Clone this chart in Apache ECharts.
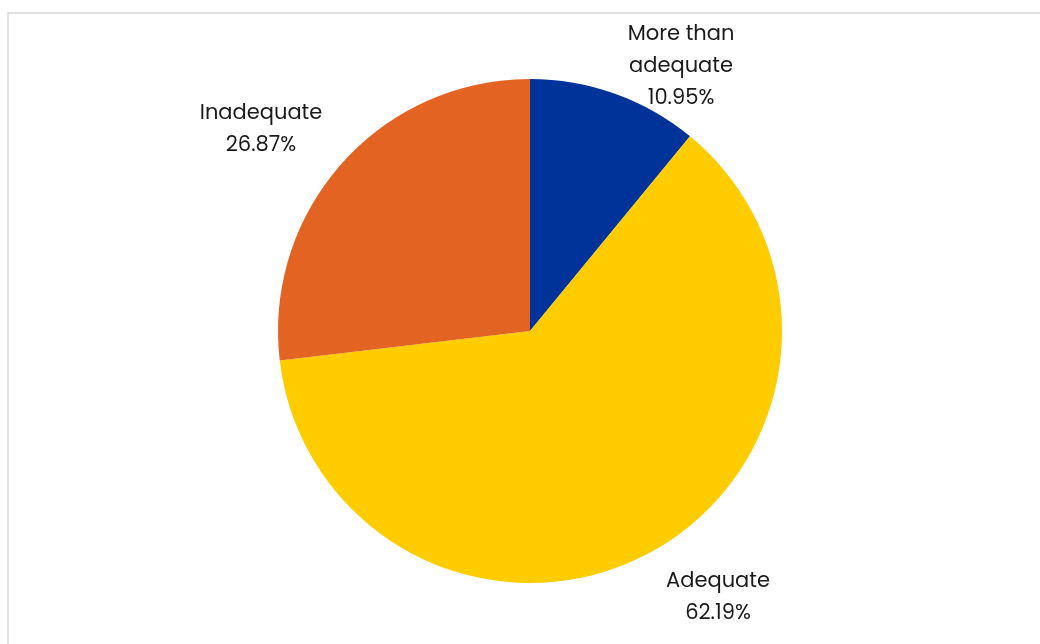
<!DOCTYPE html>
<html>
<head>
<meta charset="utf-8">
<script src="https://cdn.jsdelivr.net/npm/echarts@6/dist/echarts.min.js"></script>
<style>
  html, body { margin: 0; padding: 0; background: #fff; }
  #chart { width: 1040px; height: 644px; }
</style>
</head>
<body>
<div id="chart"></div>
<script>
const categories = ['More than adequate', 'Adequate', 'Inadequate']
const shares = [10.95, 62.19, 26.87]
const colors = ['#003399', '#FFCC00', '#E36322']

// label centres (Excel "best fit" placement)
const labelAt = [[681, 67], [718, 598], [261, 130]]

const dom = document.getElementById('chart')
const chart = echarts.init(dom)

let option = {
  animation: false,
  graphic: [
    {
      type: 'rect',
      silent: true,
      shape: { x: 8, y: 13, width: 1100, height: 700 },
      style: { fill: 'none', stroke: '#d9d9d9', lineWidth: 1.5 },
    },
  ],
  series: [
    {
      type: 'pie',
      center: [530, 331],
      radius: 252,
      startAngle: 90,
      clockwise: true,
      silent: true,
      emphasis: { disabled: true },
      itemStyle: { borderWidth: 0 },
      label: {
        show: true,
        position: 'outside',
        formatter: (p) => p.name.replace('than ', 'than\n') + '\n' + p.value.toFixed(2) + '%',
        fontFamily: 'Poppins, "Open Sans", sans-serif',
        fontSize: 21,
        lineHeight: 32,
        color: '#1a1a1a',
        align: 'center',
      },
      labelLine: { show: false },
      labelLayout: (params) => {
        const p = labelAt[params.dataIndex]
        return { x: p[0], y: p[1], align: 'center', verticalAlign: 'middle' }
      },
      data: categories.map((name, i) => ({
        name,
        value: shares[i],
        itemStyle: { color: colors[i] },
      })),
    },
  ],
}

chart.setOption(option)
</script>
</body>
</html>
